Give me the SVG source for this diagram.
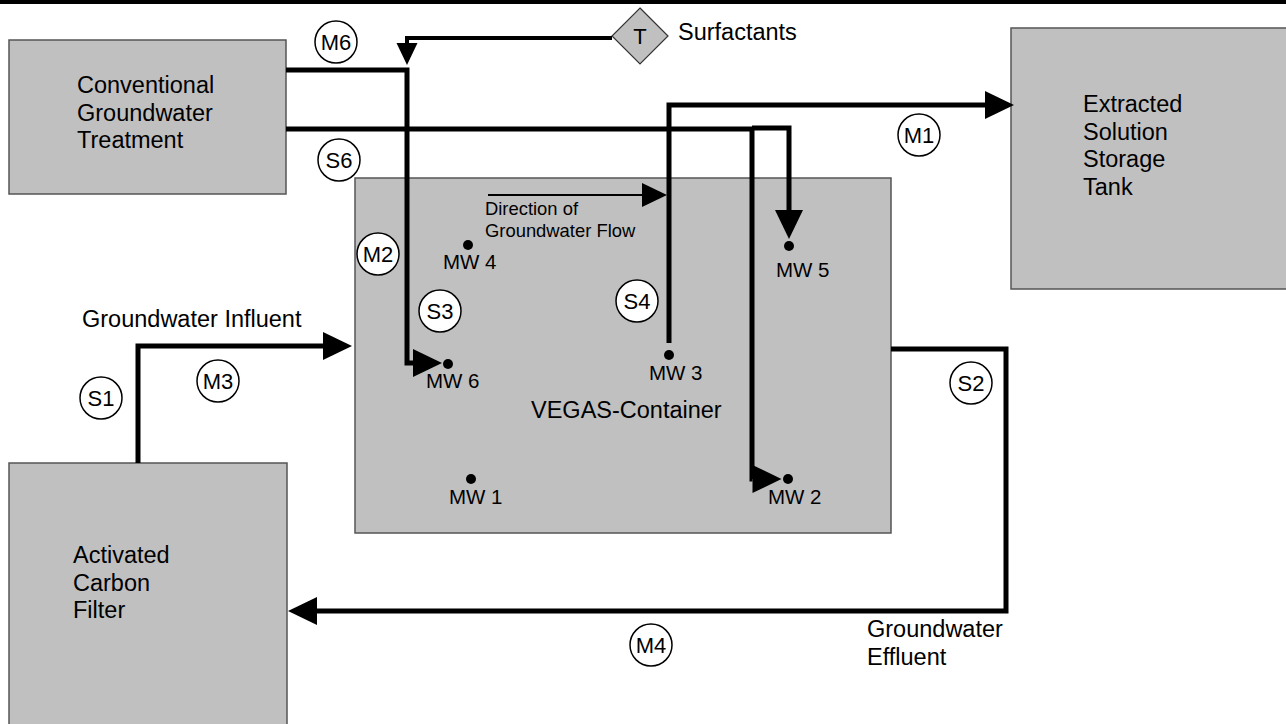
<svg xmlns="http://www.w3.org/2000/svg" width="1286" height="724" viewBox="0 0 1286 724">
<style>
.box{fill:#c0c0c0;stroke:#555;stroke-width:1.5}
.lbl{font-family:"Liberation Sans",Arial,sans-serif;font-size:23.5px;fill:#000}
.mw{font-family:"Liberation Sans",Arial,sans-serif;font-size:20.5px;fill:#000}
.sm{font-family:"Liberation Sans",Arial,sans-serif;font-size:18.4px;fill:#000}
.tag circle{fill:#fff;stroke:#000;stroke-width:1.5}
.tag text{font-family:"Liberation Sans",Arial,sans-serif;font-size:22px;fill:#000;text-anchor:middle}
.pipe{fill:none;stroke:#000;stroke-width:5;stroke-linejoin:miter}
.thin{fill:none;stroke:#000;stroke-width:4}
.flow{fill:none;stroke:#000;stroke-width:2}
.dot{fill:#000}
</style>
<defs>
<marker id="ah" markerUnits="userSpaceOnUse" markerWidth="30" markerHeight="28" viewBox="0 0 30 28" refX="0" refY="14" orient="auto" overflow="visible">
<path d="M0,0 L29,14 L0,28 z" fill="#000"/>
</marker>
<marker id="ahs" markerUnits="userSpaceOnUse" markerWidth="22" markerHeight="21" viewBox="0 0 22 21" refX="0" refY="10.5" orient="auto" overflow="visible">
<path d="M0,0 L22,10.5 L0,21 z" fill="#000"/>
</marker>
<marker id="ahf" markerUnits="userSpaceOnUse" markerWidth="26" markerHeight="24" viewBox="0 0 26 24" refX="0" refY="12" orient="auto" overflow="visible">
<path d="M0,0 L25,12 L0,24 z" fill="#000"/>
</marker>
</defs>
<rect x="0" y="0" width="1286" height="4" fill="#000"/>

<g id="conventional">
<rect class="box" x="9" y="40" width="277" height="154"/>
<text class="lbl" x="77" y="93">Conventional</text>
<text class="lbl" x="77" y="121">Groundwater</text>
<text class="lbl" x="77" y="148">Treatment</text>
</g>
<g id="vegas">
<rect class="box" x="355" y="178" width="536" height="355"/>
<text class="lbl" x="531" y="418">VEGAS-Container</text>
</g>
<g id="extracted">
<rect class="box" x="1011" y="28" width="285" height="261"/>
<text class="lbl" x="1083" y="112">Extracted</text>
<text class="lbl" x="1083" y="140">Solution</text>
<text class="lbl" x="1083" y="167">Storage</text>
<text class="lbl" x="1083" y="195">Tank</text>
</g>
<g id="activated">
<rect class="box" x="9" y="463" width="278" height="270"/>
<text class="lbl" x="73" y="563">Activated</text>
<text class="lbl" x="73" y="591">Carbon</text>
<text class="lbl" x="73" y="618">Filter</text>
</g>
<g id="surfactants">
<polygon points="640,8 668,36 640,64 612,36" fill="#c0c0c0" stroke="#333" stroke-width="1.2"/>
<text class="lbl" x="640" y="44" text-anchor="middle" style="font-size:22px">T</text>
<text class="lbl" x="678" y="40">Surfactants</text>
</g>

<g id="connectors">
<path class="thin" d="M612,38 H407 V43" marker-end="url(#ahs)"/>
<path class="pipe" d="M286,70 H407 V363 H413" marker-end="url(#ah)"/>
<path class="pipe" d="M286,129 H752 V479 H752.5" marker-end="url(#ah)"/>
<path class="pipe" d="M752,128 H789 V210" marker-end="url(#ah)"/>
<path class="pipe" d="M669,343 V105 H985" marker-end="url(#ah)"/>
<path class="pipe" d="M138,463 V346 H323" marker-end="url(#ah)"/>
<path class="pipe" d="M891,349 H1006 V611 H317" marker-end="url(#ah)"/>
<path class="flow" d="M488,195 H642" marker-end="url(#ahf)"/>
</g>

<g id="wells">
<circle class="dot" cx="468" cy="245" r="5"/>
<text class="mw" x="443" y="269">MW 4</text>
<circle class="dot" cx="789" cy="246" r="5"/>
<text class="mw" x="776" y="277">MW 5</text>
<circle class="dot" cx="448" cy="364" r="5"/>
<text class="mw" x="426" y="388">MW 6</text>
<circle class="dot" cx="669" cy="355" r="5"/>
<text class="mw" x="649" y="380">MW 3</text>
<circle class="dot" cx="471" cy="479" r="5"/>
<text class="mw" x="449" y="504">MW 1</text>
<circle class="dot" cx="788" cy="479" r="5"/>
<text class="mw" x="768" y="504">MW 2</text>
</g>

<g id="labels">
<text class="sm" x="485" y="215">Direction of</text>
<text class="sm" x="485" y="237">Groundwater Flow</text>
<text class="lbl" x="82" y="327">Groundwater Influent</text>
<text class="lbl" x="867" y="637">Groundwater</text>
<text class="lbl" x="867" y="665">Effluent</text>
</g>

<g id="tag-m6" class="tag"><circle cx="336" cy="42" r="21"/><text x="336" y="50">M6</text></g>
<g id="tag-s6" class="tag"><circle cx="339" cy="160" r="21"/><text x="339" y="168">S6</text></g>
<g id="tag-m1" class="tag"><circle cx="919" cy="135" r="21"/><text x="919" y="143">M1</text></g>
<g id="tag-m2" class="tag"><circle cx="378" cy="254" r="21"/><text x="378" y="262">M2</text></g>
<g id="tag-s3" class="tag"><circle cx="440" cy="311" r="21"/><text x="440" y="319">S3</text></g>
<g id="tag-s4" class="tag"><circle cx="637" cy="301" r="21"/><text x="637" y="309">S4</text></g>
<g id="tag-s1" class="tag"><circle cx="101" cy="398" r="21"/><text x="101" y="406">S1</text></g>
<g id="tag-m3" class="tag"><circle cx="218" cy="381" r="21"/><text x="218" y="389">M3</text></g>
<g id="tag-s2" class="tag"><circle cx="971" cy="383" r="21"/><text x="971" y="391">S2</text></g>
<g id="tag-m4" class="tag"><circle cx="651" cy="645" r="21"/><text x="651" y="653">M4</text></g>
</svg>
